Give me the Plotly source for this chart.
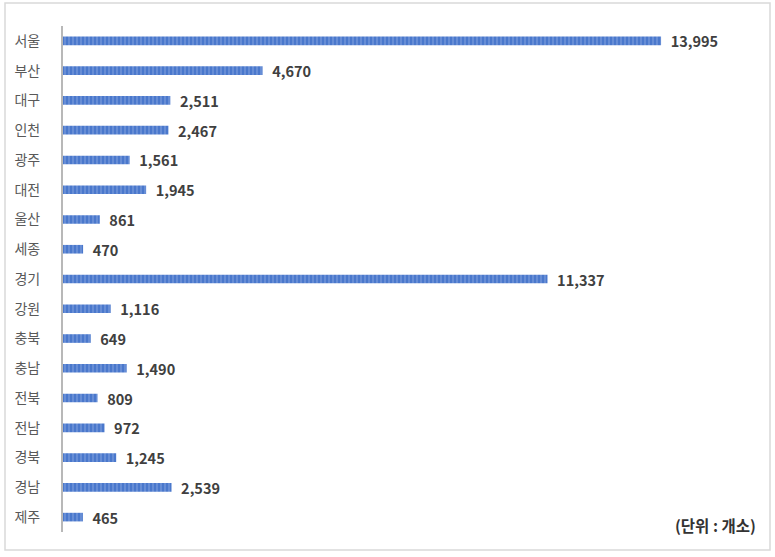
import plotly.graph_objects as go

regions = ["서울", "부산", "대구", "인천", "광주", "대전", "울산", "세종", "경기",
           "강원", "충북", "충남", "전북", "전남", "경북", "경남", "제주"]
counts = [13995, 4670, 2511, 2467, 1561, 1945, 861, 470, 11337,
          1116, 649, 1490, 809, 972, 1245, 2539, 465]
unit_label = "(단위 : 개소)"

W, H = 775, 557
L, R, T, B = 63, 15, 26, 25
pw, ph = W - L - R, H - T - B

def px_x(p):
    return (p - L) / pw

def px_y(p):
    return (H - B - p) / ph

fig = go.Figure(go.Bar(
    x=counts, y=regions, orientation="h",
    width=0.29,
    marker=dict(color="#4a78cc", line=dict(width=0),
                pattern=dict(shape="|", fgcolor="#a9c0ec", size=4, solidity=0.3)),
    text=[f"\u00a0\u00a0{v:,}" for v in counts],
    textposition="outside", cliponaxis=False, constraintext="none",
    textfont=dict(family="Noto Sans CJK KR", size=14.5, color="#404040", weight="bold"),
))

fig.update_layout(
    width=W, height=H,
    margin=dict(l=L, r=R, t=T, b=B),
    paper_bgcolor="white", plot_bgcolor="white",
    showlegend=False,
    font=dict(family="Noto Sans CJK KR"),
    xaxis=dict(range=[0, 16310], visible=False, fixedrange=True),
    yaxis=dict(autorange="reversed", showline=True, linecolor="#b8b8b8", linewidth=2,
               ticks="", showgrid=False, ticklabelstandoff=18,
               tickfont=dict(family="Noto Sans CJK KR", size=14, color="#595959")),
    shapes=[dict(type="rect", xref="paper", yref="paper",
                 x0=px_x(5), x1=px_x(770), y0=px_y(550), y1=px_y(3),
                 line=dict(color="#d9d9d9", width=1.5), layer="below")],
    annotations=[dict(text=unit_label, xref="paper", yref="paper",
                      x=px_x(758), y=px_y(538), xanchor="right", yanchor="bottom",
                      showarrow=False,
                      font=dict(family="Noto Sans CJK KR", size=15.5, color="#333333",
                                weight="bold"))],
)

fig.write_html("out.html")
